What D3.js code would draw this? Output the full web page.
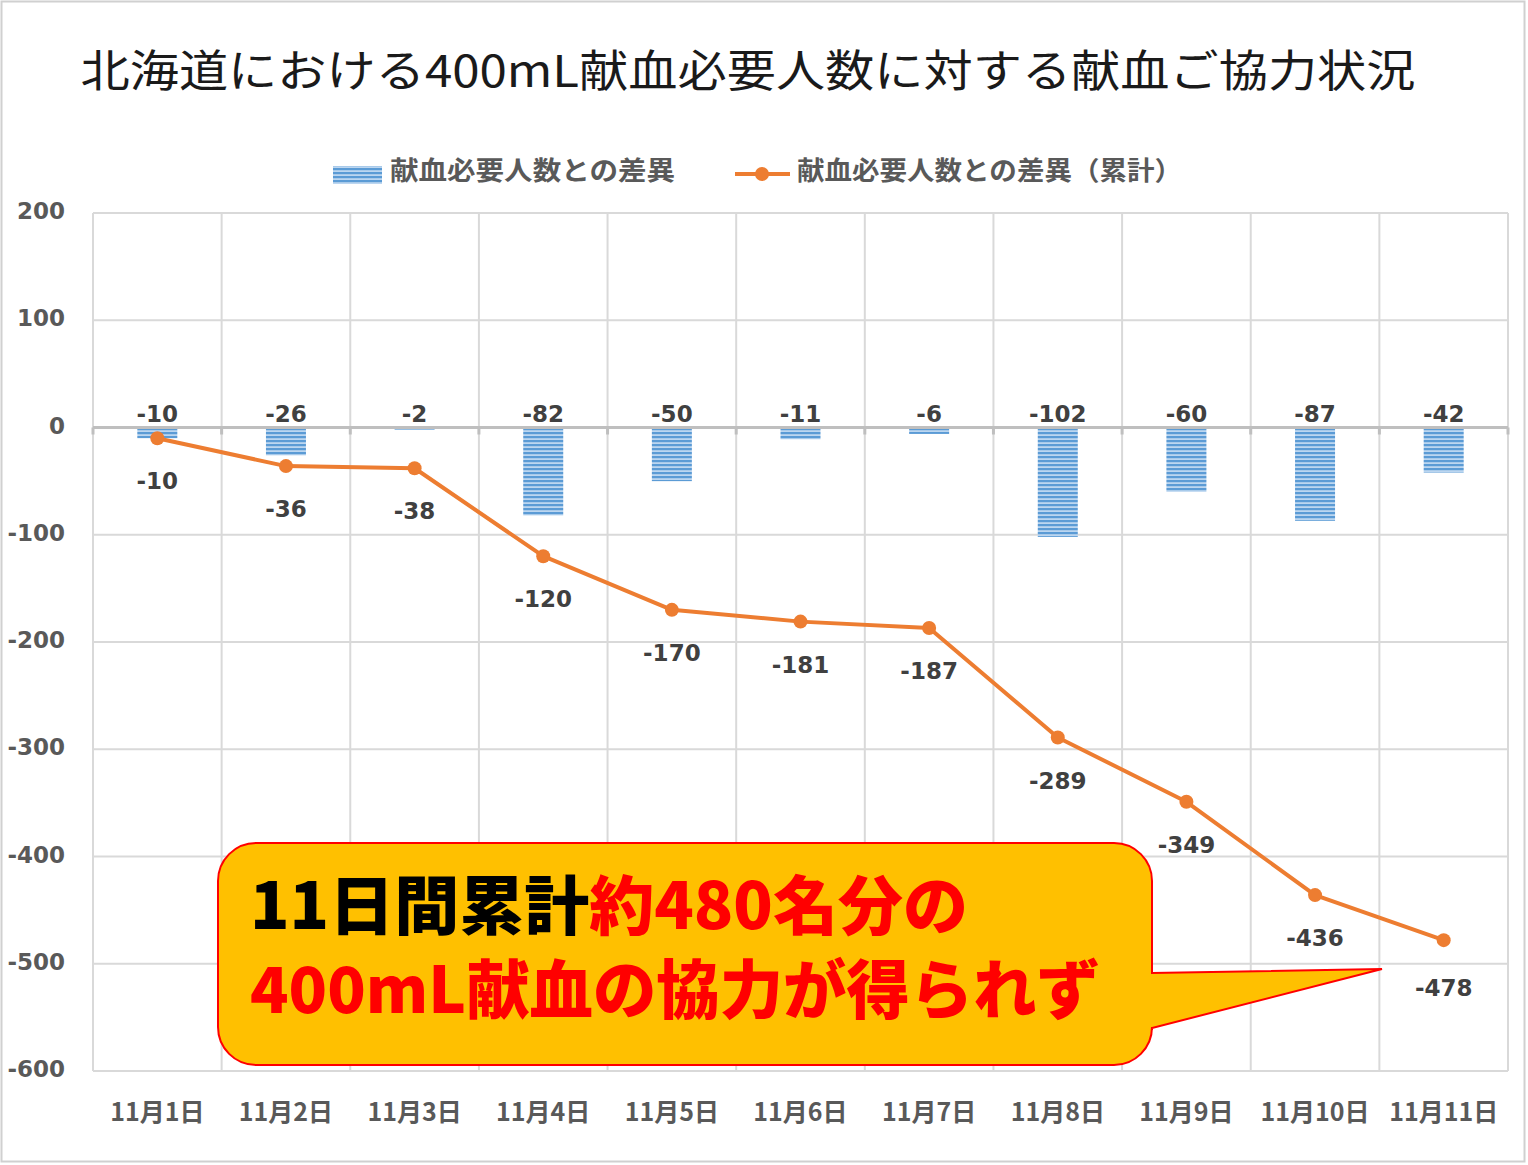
<!DOCTYPE html>
<html><head><meta charset="utf-8">
<script src="https://cdn.jsdelivr.net/npm/d3@7/dist/d3.min.js"></script>
<style>
html,body{margin:0;padding:0;background:#fff;}
svg text{font-family:"Noto Sans CJK JP","Noto Sans",sans-serif;}
svg text.num{font-family:"DejaVu Sans","Noto Sans",sans-serif;}
</style></head>
<body>
<svg id="chart" width="1528" height="1165"></svg>
<script>
const categories = ["11月1日","11月2日","11月3日","11月4日","11月5日","11月6日","11月7日","11月8日","11月9日","11月10日","11月11日"];
const dailyDiff = [-10,-26,-2,-82,-50,-11,-6,-102,-60,-87,-42];
const cumulativeDiff = [-10,-36,-38,-120,-170,-181,-187,-289,-349,-436,-478];
const yTicks = [200,100,0,-100,-200,-300,-400,-500,-600];
const titleText = "北海道における400mL献血必要人数に対する献血ご協力状況";
const seriesNames = ["献血必要人数との差異","献血必要人数との差異（累計）"];

(function(){
const svg = d3.select("#chart");
const W = 1528, H = 1165;
const pLeft = 93, pRight = 1508, pTop = 213, pBottom = 1071;

// outer frame
svg.append("rect").attr("x",1.5).attr("y",1.5).attr("width",W-5).attr("height",H-5)
  .attr("fill","#fff").attr("stroke","#d0d0d0").attr("stroke-width",2);

const defs = svg.append("defs");
const pat = defs.append("pattern").attr("id","stripes").attr("patternUnits","userSpaceOnUse")
  .attr("width",8).attr("height",4);
pat.append("rect").attr("width",8).attr("height",4).attr("fill","#bcd6f0");
pat.append("rect").attr("y",0).attr("width",8).attr("height",2.2).attr("fill","#5b9bd5");

const x = d3.scaleBand().domain(categories).range([pLeft,pRight]).padding(0);
const y = d3.scaleLinear().domain([-600,200]).range([pBottom,pTop]);

// title
svg.append("text").attr("x",748).attr("y",87).attr("text-anchor","middle")
  .attr("font-size",44).attr("fill","#1a1a1a").attr("font-weight",400)
  .attr("textLength",1335).attr("lengthAdjust","spacingAndGlyphs")
  .text(titleText);

// gridlines
const grid = svg.append("g");
yTicks.filter(t=>t!==0).forEach(t=>{
  grid.append("line").attr("x1",pLeft).attr("x2",pRight).attr("y1",y(t)).attr("y2",y(t))
    .attr("stroke","#d9d9d9").attr("stroke-width",2);
});
const bounds = categories.map(c=>x(c)).concat([pRight]);
bounds.forEach(b=>{
  grid.append("line").attr("x1",b).attr("x2",b).attr("y1",pTop).attr("y2",pBottom)
    .attr("stroke","#d9d9d9").attr("stroke-width",2);
});

// y labels
svg.append("g").selectAll("text").data(yTicks).join("text").attr("class","num")
  .attr("x",65).attr("y",d=>y(d)-2).attr("dy","0.35em").attr("text-anchor","end")
  .attr("font-size",23).attr("font-weight",700).attr("fill","#595959")
  .text(d=>d);

// x labels
svg.append("g").selectAll("text").data(categories).join("text")
  .attr("x",d=>x(d)+x.bandwidth()/2).attr("y",1112).attr("dy","0.35em").attr("text-anchor","middle")
  .attr("font-size",25).attr("font-weight",700).attr("fill","#595959")
  .text(d=>d);

// bars
const bw = 40;
svg.append("g").selectAll("rect").data(dailyDiff).join("rect")
  .attr("x",(d,i)=>x(categories[i])+x.bandwidth()/2-bw/2)
  .attr("y",y(0)).attr("width",bw).attr("height",d=>y(d)-y(0))
  .attr("fill","url(#stripes)");

// zero axis
svg.append("line").attr("x1",pLeft).attr("x2",pRight).attr("y1",y(0)).attr("y2",y(0))
  .attr("stroke","#bfbfbf").attr("stroke-width",3);
bounds.forEach(b=>{
  svg.append("line").attr("x1",b).attr("x2",b).attr("y1",y(0)).attr("y2",y(0)+7)
    .attr("stroke","#bfbfbf").attr("stroke-width",3);
});

// bar labels
svg.append("g").selectAll("text").data(dailyDiff).join("text").attr("class","num")
  .attr("x",(d,i)=>x(categories[i])+x.bandwidth()/2).attr("y",y(0)-14).attr("dy","0.35em")
  .attr("text-anchor","middle").attr("font-size",23).attr("font-weight",700).attr("fill","#404040")
  .text(d=>d);

// cumulative line
const cx = (d,i)=>x(categories[i])+x.bandwidth()/2;
const line = d3.line().x(cx).y(d=>y(d));
svg.append("path").datum(cumulativeDiff).attr("d",line).attr("fill","none")
  .attr("stroke","#ed7d31").attr("stroke-width",4).attr("stroke-linejoin","round");
svg.append("g").selectAll("circle").data(cumulativeDiff).join("circle")
  .attr("cx",cx).attr("cy",d=>y(d)).attr("r",7).attr("fill","#ed7d31");
svg.append("g").selectAll("text").data(cumulativeDiff).join("text").attr("class","num")
  .attr("x",cx).attr("y",(d,i)=>y(d)+(i===cumulativeDiff.length-1?48:43)).attr("dy","0.35em")
  .attr("text-anchor","middle").attr("font-size",23).attr("font-weight",700).attr("fill","#404040")
  .text(d=>d);

// legend
const lg = svg.append("g");
lg.append("rect").attr("x",333).attr("y",166).attr("width",49).attr("height",18).attr("fill","url(#stripes)");
lg.append("text").attr("x",390).attr("y",171).attr("dy","0.35em").attr("font-size",26).attr("font-weight",700)
  .attr("fill","#595959").attr("textLength",285).attr("lengthAdjust","spacingAndGlyphs").text(seriesNames[0]);
lg.append("line").attr("x1",735).attr("x2",790).attr("y1",174).attr("y2",174).attr("stroke","#ed7d31").attr("stroke-width",4);
lg.append("circle").attr("cx",762).attr("cy",174).attr("r",7).attr("fill","#ed7d31");
lg.append("text").attr("x",797).attr("y",171).attr("dy","0.35em").attr("font-size",26).attr("font-weight",700)
  .attr("fill","#595959").attr("textLength",385).attr("lengthAdjust","spacingAndGlyphs").text(seriesNames[1]);

// callout
const bx0=218, bx1=1152, by0=843, by1=1065, r=38;
const tipX = 1382, tipY = 969;
const p = d3.path();
p.moveTo(bx0+r,by0);
p.lineTo(bx1-r,by0);
p.arcTo(bx1,by0,bx1,by0+r,r);
p.lineTo(bx1,973);
p.lineTo(tipX,tipY);
p.lineTo(bx1,1028);
p.lineTo(bx1,by1-r+3);
p.arcTo(bx1,by1,bx1-r,by1,r);
p.lineTo(bx0+r,by1);
p.arcTo(bx0,by1,bx0,by1-r,r);
p.lineTo(bx0,by0+r);
p.arcTo(bx0,by0,bx0+r,by0,r);
p.closePath();
svg.append("path").attr("d",p.toString()).attr("fill","#ffc000").attr("stroke","#ff0000").attr("stroke-width",2);

const t1 = svg.append("text").attr("x",250).attr("y",929).attr("font-size",64).attr("font-weight",900)
  .attr("textLength",718).attr("lengthAdjust","spacingAndGlyphs");
t1.append("tspan").attr("fill","#000").text("11日間累計");
t1.append("tspan").attr("fill","#ff0000").text("約480名分の");
svg.append("text").attr("x",250).attr("y",1013).attr("font-size",64).attr("font-weight",900)
  .attr("fill","#ff0000").attr("textLength",850).attr("lengthAdjust","spacingAndGlyphs")
  .text("400mL献血の協力が得られず");
})();
</script>
</body></html>
